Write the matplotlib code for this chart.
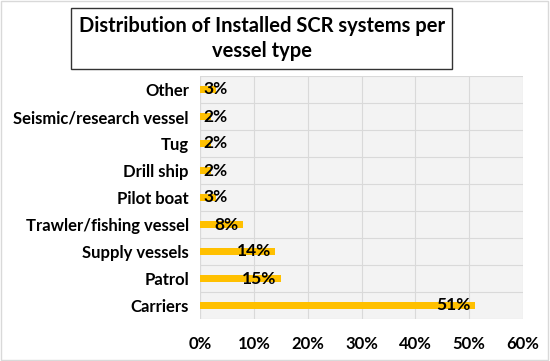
import matplotlib.pyplot as plt
from matplotlib.patches import Rectangle

categories = ['Carriers', 'Patrol', 'Supply vessels', 'Trawler/fishing vessel',
              'Pilot boat', 'Drill ship', 'Tug', 'Seismic/research vessel', 'Other']
values = [51, 15, 14, 8, 3, 2, 2, 2, 3]
labels = ['51%', '15%', '14%', '8%', '3%', '2%', '2%', '2%', '3%']
xticks = [0, 10, 20, 30, 40, 50, 60]

plt.rcParams['font.family'] = ['Lato', 'DejaVu Sans']

fig = plt.figure(figsize=(5.5, 3.61), dpi=100)
ax = fig.add_axes([200 / 550, 1 - 319 / 361, 323 / 550, 243 / 361])

ypos = list(range(len(categories)))
ax.barh(ypos, values, height=0.27, color='#FFC000', zorder=3)

for y, v, lab in zip(ypos, values, labels):
    if v >= 8:
        ax.text(v - 0.8, y, lab, ha='right', va='center', fontsize=12.5,
                fontweight='bold', color='black', zorder=4)
    else:
        ax.text(0.7, y, lab, ha='left', va='center', fontsize=12.5,
                fontweight='bold', color='black', zorder=4)

ax.set_xlim(0, 60)
ax.set_ylim(-0.5, len(categories) - 0.5)
ax.set_xticks(xticks)
ax.set_xticklabels([f'{t}%' for t in xticks], fontsize=12, fontweight='bold')
ax.set_yticks(ypos)
ax.set_yticklabels(categories, fontsize=12, fontweight='bold')
ax.tick_params(length=0, pad=12)
ax.tick_params(axis='y', pad=8)

ax.set_facecolor('#f3f3f3')
ax.set_yticks([i + 0.5 for i in range(-1, len(categories))], minor=True)
ax.grid(axis='x', color='#d9d9d9', linewidth=0.8, zorder=0)
ax.grid(axis='y', which='minor', color='#d9d9d9', linewidth=0.8, zorder=0)
ax.grid(axis='y', which='major', visible=False)
ax.tick_params(which='minor', length=0)
for s in ax.spines.values():
    s.set_visible(False)
ax.axvline(0, color='#d9d9d9', linewidth=0.8, zorder=1)

# title box
fig.patches.append(Rectangle((71 / 550, 1 - 69 / 361), 381 / 550, 61 / 361,
                             transform=fig.transFigure, facecolor='white',
                             edgecolor='#333333', linewidth=1))
fig.text(262 / 550, 1 - 38.5 / 361, 'Distribution of Installed SCR systems per\nvessel type',
         ha='center', va='center', fontsize=14.5, fontweight='bold', linespacing=1.3,
         color='black')

fig.patches.append(Rectangle((0.002, 0.003), 0.995, 0.994, transform=fig.transFigure,
                             fill=False, edgecolor='#d9d9d9', linewidth=1))

fig.savefig('out.png', dpi=100)
